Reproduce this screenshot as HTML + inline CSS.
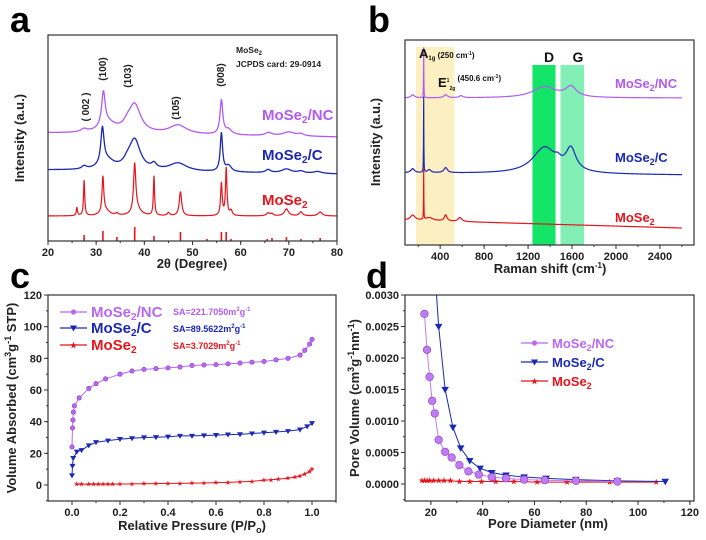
<!DOCTYPE html>
<html><head><meta charset="utf-8">
<style>
html,body{margin:0;padding:0;background:#fff;}
svg{display:block;font-family:"Liberation Sans",Arial,sans-serif;font-weight:bold;}
</style></head>
<body>
<svg id="fig" width="706" height="540" viewBox="0 0 706 540"></svg>
<script>
// ---------- DATA ----------
// panel a (XRD): peaks [center 2theta, height, halfwidth]
const xrdNCBase=[108,104];
const xrdNCPeaks=[[27.5,3,0.8],[31.5,34,0.45],[32.5,9,2],[38,28,1.5],[36.5,5,1],[47,9,2.2],[56,34,0.35],[57.5,5,0.8],[65.8,3,0.8],[70,4,1.5],[72.5,2,0.8]];
const xrdCBase=[71,67];
const xrdCPeaks=[[27.5,3,0.6],[31.3,36,0.4],[32.3,9,1.8],[38,30,1.4],[36.5,5,1],[42,5,0.6],[47,8,2.2],[56,38,0.3],[57.5,6,0.7],[65.7,3,0.6],[69.5,4,1.2],[72.5,2,0.8],[76,2,1]];
const xrdMBase=[25,25];
const xrdMPeaks=[[26,8,0.15],[27.5,35,0.15],[31.4,36,0.22],[32,5,1],[34.3,2,0.3],[38,48,0.28],[38.5,6,1],[42,39,0.15],[45,3,0.3],[47.5,24,0.3],[56,32,0.2],[57,47,0.18],[58,5,0.3],[65.7,3,0.4],[66.5,2,0.3],[69.5,7,0.5],[72.5,4,0.4],[76.5,4,0.5]];
const refPos=[27.5,31.4,34.3,38,42,47.5,53,56,57,58,65.5,66.5,69.5,72.5,76.5];
const refH=[6,10,4,14,5,9,2,9,9,2,2,3,4,2,3];
// panel b (Raman)
const ramNCBase=[147,147];
const ramNCPeaks=[[250,50,1.5],[1350,11,130],[1590,10,60],[450,3,20],[150,3,20],[590,2,20]];
const ramCBase=[72,70];
const ramCPeaks=[[250,75,1.5],[1350,26,130],[1590,22,55],[1470,4,30],[450,5,20],[150,4,20],[300,3,20]];
const ramMBase=[25,17];
const ramMPeaks=[[250,50,1.5],[450,6,15],[150,5,25],[580,4,20],[300,3,40]];
// panel c (BET)
const pNC=[0,0.002,0.004,0.006,0.01,0.03,0.07,0.1,0.14,0.2,0.25,0.3,0.35,0.4,0.45,0.5,0.55,0.6,0.65,0.7,0.75,0.8,0.85,0.9,0.95,0.97,0.99,1.0];
const vNC=[24,36,41,46,50,55,61,64,67,70,72,73,73.5,74,74.5,75.5,75.8,76,76.5,77,77.5,78,79,80,82,85,89,92];
const pC=[0,0.002,0.005,0.02,0.04,0.07,0.1,0.15,0.2,0.25,0.3,0.35,0.4,0.45,0.5,0.55,0.6,0.65,0.7,0.75,0.8,0.85,0.9,0.95,0.98,1.0];
const vC=[6,12,17,21,22,25,27,28,29,29.5,30,30.2,30.5,31,31,31.3,31.5,31.8,32,32.5,33,33.5,34,35,37,39];
const pM=[0.02,0.04,0.07,0.09,0.11,0.13,0.15,0.17,0.2,0.25,0.3,0.35,0.4,0.45,0.5,0.55,0.6,0.65,0.7,0.75,0.8,0.83,0.86,0.9,0.93,0.95,0.97,0.99,1.0];
const vM=[0.5,0.5,0.5,0.5,0.5,0.5,0.5,0.5,0.6,0.7,0.8,0.9,1,1,1.2,1.3,1.5,1.7,2,2.3,3,3.3,3.7,4.3,5,5.8,7,8.5,10];
// panel d (pore size)
const dNC=[17.5,18.5,19.5,20.5,21.5,23,25.5,28,31,34.5,38.5,43.5,49,56,64,76,92];
const pvNC=[0.0027,0.00213,0.0017,0.00132,0.00112,0.0007,0.00051,0.00042,0.0003,0.0002,0.00015,0.00011,0.00009,0.00007,0.00006,0.00005,0.00004];
const dC=[20.5,23,25.5,28.5,31.5,35,39,43.5,49,56,64.5,76,92,110.5];
const pvC=[0.004,0.0025,0.0015,0.0009,0.00057,0.00037,0.00025,0.00018,0.00014,0.00011,0.00009,0.00007,0.00005,0.00004];
const dM=[16.5,17.5,18.5,19.5,21,23,25,27.5,31,35,39.5,45,52,61,72.5,89,107];
const pvM=[0.00005,0.00005,0.00005,0.00005,0.00005,0.00005,0.00005,0.00005,0.00004,0.00004,0.00004,0.00004,0.00004,0.00003,0.00003,0.00003,0.00003];
const xTicksA=[20,30,40,50,60,70,80];
const xTicksB=[400,800,1200,1600,2000,2400];
const xTicksC=[0,0.2,0.4,0.6,0.8,1.0];
const yTicksC=[0,20,40,60,80,100,120];
const xTicksD=[20,40,60,80,100,120];
const yTicksD=[0,0.0005,0.001,0.0015,0.002,0.0025,0.003];

// ---------- HELPERS ----------
const NS='http://www.w3.org/2000/svg';
const svg=document.getElementById('fig');
const PUR='#b25af2',BLU='#1a28b2',RED='#e8141c';
function mk(tag,attrs,parent){const e=document.createElementNS(NS,tag);for(const k in attrs)e.setAttribute(k,attrs[k]);(parent||svg).appendChild(e);return e;}
function lin(d0,d1,r0,r1){return v=>r0+(v-d0)*(r1-r0)/(d1-d0);}
function txt(x,y,s,size,fill,anchor,name,extra){const t=mk('text',Object.assign({x:x,y:y,'font-size':size,fill:fill||'#000','text-anchor':anchor||'start'},extra||{}));t.innerHTML=s;


return t;}
function frame(b,name){const r=mk('rect',{x:b.x0,y:b.y0,width:b.x1-b.x0,height:b.y1-b.y0,fill:'none',stroke:'#333','stroke-width':1.2});

}
function xAxis(b,sx,ticks,minorStep,fmt,name){
  const g=mk('g',{});
  
  
  ticks.forEach(t=>{const x=sx(t);mk('line',{x1:x,x2:x,y1:b.y1,y2:b.y1+4,stroke:'#333','stroke-width':1},g);
    const l=txt(x,b.y1+15,fmt(t),11,'#222','middle','x-tick-label');g.appendChild(l);});
  if(minorStep){for(let v=ticks[0]-minorStep;v<=ticks[ticks.length-1]+minorStep;v+=minorStep){const x=sx(v);if(x>b.x0&&x<b.x1)mk('line',{x1:x,x2:x,y1:b.y1,y2:b.y1+2,stroke:'#333','stroke-width':1},g);}}
}
function yAxis(b,sy,ticks,minorStep,fmt,name){
  const g=mk('g',{});
  
  
  ticks.forEach(t=>{const y=sy(t);mk('line',{x1:b.x0,x2:b.x0-4,y1:y,y2:y,stroke:'#333','stroke-width':1},g);
    const l=txt(b.x0-6,y+4,fmt(t),11,'#222','end','y-tick-label');g.appendChild(l);});
  if(minorStep){for(let v=ticks[0]-minorStep;v<=ticks[ticks.length-1];v+=minorStep){const y=sy(v);if(y>b.y0&&y<b.y1)mk('line',{x1:b.x0,x2:b.x0-2,y1:y,y2:y,stroke:'#333','stroke-width':1},g);}}
}
function spectrum(x0,x1,step,base,peaks){const pts=[];for(let x=x0;x<=x1+1e-9;x+=step){let v=base[0]+(base[1]-base[0])*(x-x0)/(x1-x0);peaks.forEach(p=>{const u=(x-p[0])/p[2];v+=p[1]/(1+u*u);});pts.push([x,v]);}return pts;}
function poly(pts,sx,sy,color,w,name,clip){const p=mk('polyline',{points:pts.map(q=>sx(q[0]).toFixed(2)+','+sy(q[1]).toFixed(2)).join(' '),fill:'none',stroke:color,'stroke-width':w,'stroke-linejoin':'round'});
if(clip)p.setAttribute('clip-path',clip);


return p;}

// ---------- PANEL A ----------
const A={x0:48,x1:337,y0:35,y1:241};
const axA=lin(20,80,A.x0,A.x1), ayA=lin(0,206,A.y1,A.y0);
txt(10,32,'a',36,'#000','start','panel-label-a');
poly(spectrum(20,80,0.05,xrdNCBase,xrdNCPeaks),axA,ayA,PUR,1.3,'xrd-mose2-nc-line');
poly(spectrum(20,80,0.05,xrdCBase,xrdCPeaks),axA,ayA,BLU,1.3,'xrd-mose2-c-line');
poly(spectrum(20,80,0.02,xrdMBase,xrdMPeaks),axA,ayA,RED,1.2,'xrd-mose2-line');
refPos.forEach((p,i)=>{const l=mk('line',{x1:axA(p),x2:axA(p),y1:A.y1,y2:ayA(refH[i]),stroke:RED,'stroke-width':1.6});

});
frame(A,'plot-frame-a');
xAxis(A,axA,xTicksA,5,v=>v,'x-axis-a');
txt(192,268,'2θ (Degree)',13,'#222','middle','x-axis-title-a');
txt(24,138,'Intensity (a.u.)',13,'#222','middle','y-axis-title-a',{transform:'rotate(-90 24 138)'});
txt(236,53,'MoSe<tspan font-size="6" dy="2">2</tspan>',8.5,'#222','start','jcpds-title');
txt(236,67,'JCPDS card: 29-0914',8.5,'#222','start','jcpds-card');
[['( 002 )',89,107],['(100)',106,69],['(103)',131,76],['(105)',179,108],['(008)',224,75]].forEach(q=>txt(q[1],q[2],q[0],10,'#222','middle','peak-index-label',{transform:'rotate(-90 '+q[1]+' '+q[2]+')'}));
txt(262,120,'MoSe<tspan font-size="10" dy="3">2</tspan><tspan dy="-3">/NC</tspan>',15,PUR,'start','label-mose2-nc-a');
txt(262,160,'MoSe<tspan font-size="10" dy="3">2</tspan><tspan dy="-3">/C</tspan>',15,BLU,'start','label-mose2-c-a');
txt(262,205,'MoSe<tspan font-size="10" dy="3">2</tspan>',15,RED,'start','label-mose2-a');

// ---------- PANEL B ----------
const B={x0:405,x1:694,y0:40,y1:245};
const axB=lin(80,2710,B.x0,B.x1), ayB=lin(0,205,B.y1,B.y0);
txt(368,32,'b',36,'#000','start','panel-label-b');
const yb=mk('rect',{x:axB(180),y:47,width:axB(530)-axB(180),height:B.y1-47,fill:'#fcefc2'});


const db=mk('rect',{x:axB(1240),y:65,width:axB(1450)-axB(1240),height:B.y1-65,fill:'#14e468'});


const gb=mk('rect',{x:axB(1495),y:65,width:axB(1710)-axB(1495),height:B.y1-65,fill:'#82f0b4'});


poly(spectrum(80,2600,2,ramNCBase,ramNCPeaks),axB,ayB,PUR,1.2,'raman-mose2-nc-line');
poly(spectrum(80,2600,2,ramCBase,ramCPeaks),axB,ayB,BLU,1.2,'raman-mose2-c-line');
poly(spectrum(80,2600,2,ramMBase,ramMPeaks),axB,ayB,RED,1.2,'raman-mose2-line');
frame(B,'plot-frame-b');
xAxis(B,axB,xTicksB,200,v=>v,'x-axis-b');
txt(550,273,'Raman shift (cm<tspan font-size="8" dy="-5">-1</tspan><tspan dy="5">)</tspan>',13,'#222','middle','x-axis-title-b');
txt(380,142,'Intensity (a.u.)',13,'#222','middle','y-axis-title-b',{transform:'rotate(-90 380 142)'});
txt(419,58,'A<tspan font-size="6" dy="2">1g</tspan><tspan font-size="8" dy="-2"> (250 cm</tspan><tspan font-size="5" dy="-3">-1</tspan><tspan font-size="8" dy="3">)</tspan>',13,'#111','start','a1g-label');
txt(438,87,'E<tspan font-size="5" dy="-5">1</tspan><tspan font-size="5" dy="8">2g</tspan><tspan font-size="8" dy="-9"> (450.6 cm</tspan><tspan font-size="5" dy="-3">-1</tspan><tspan font-size="8" dy="3">)</tspan>',13,'#111','start','e2g-label');
txt(549,62,'D',14,'#111','middle','d-band-label');
txt(578,62,'G',14,'#111','middle','g-band-label');
txt(615,88,'MoSe<tspan font-size="9" dy="3">2</tspan><tspan dy="-3">/NC</tspan>',13,PUR,'start','label-mose2-nc-b');
txt(615,162,'MoSe<tspan font-size="9" dy="3">2</tspan><tspan dy="-3">/C</tspan>',13,BLU,'start','label-mose2-c-b');
txt(615,222,'MoSe<tspan font-size="9" dy="3">2</tspan>',13,RED,'start','label-mose2-b');

// ---------- PANEL C ----------
const C={x0:48,x1:336,y0:295,y1:501};
const axC=lin(-0.1,1.1,C.x0,C.x1), ayC=lin(-10.1,120,C.y1,C.y0);
txt(10,288,'c',36,'#000','start','panel-label-c');
function series(xs,ys,sx,sy,color,kind,name,r,clip){
  poly(xs.map((x,i)=>[x,ys[i]]),sx,sy,color,1,name+'-line',clip);
  xs.forEach((x,i)=>{const cx=sx(x),cy=sy(ys[i]);let m;
    if(kind==='circle')m=mk('circle',{cx:cx,cy:cy,r:r,fill:color,stroke:'#8a3ac8','stroke-width':0.6});
    else if(kind==='tri')m=mk('polygon',{points:`${cx-r},${cy-r*0.7} ${cx+r},${cy-r*0.7} ${cx},${cy+r}`,fill:color});
    else m=mk('text',{x:cx,y:cy+r*0.9,'font-size':r*2.8,fill:color,'text-anchor':'middle'}),m.textContent='★';
    if(clip)m.setAttribute('clip-path',clip);
    
    
  });
}
series(pNC,vNC,axC,ayC,'#b868f2','circle','bet-mose2-nc',2.2);
series(pC,vC,axC,ayC,BLU,'tri','bet-mose2-c',3);
series(pM,vM,axC,ayC,RED,'star','bet-mose2',2.2);
frame(C,'plot-frame-c');
xAxis(C,axC,xTicksC,0.1,v=>v.toFixed(1),'x-axis-c');
yAxis(C,ayC,yTicksC,10,v=>v,'y-axis-c');
txt(192,530,'Relative Pressure (P/P<tspan font-size="9" dy="3">o</tspan><tspan dy="-3">)</tspan>',13,'#222','middle','x-axis-title-c');
txt(16,398,'Volume Absorbed (cm<tspan font-size="9" dy="-5">3</tspan><tspan dy="5">g</tspan><tspan font-size="9" dy="-5">-1</tspan><tspan dy="5"> STP)</tspan>',13,'#222','middle','y-axis-title-c',{transform:'rotate(-90 16 398)'});
function legend(x,y,color,kind,label,size,name){
  const g=mk('g',{});
  
  
  mk('line',{x1:x,x2:x+27,y1:y,y2:y,stroke:color,'stroke-width':1.2},g);
  const cx=x+13.5;
  if(kind==='circle')mk('circle',{cx:cx,cy:y,r:2.6,fill:color},g);
  else if(kind==='tri')mk('polygon',{points:`${cx-3.5},${y-2.5} ${cx+3.5},${y-2.5} ${cx},${y+3.5}`,fill:color},g);
  else{const s=mk('text',{x:cx,y:y+3,'font-size':8,fill:color,'text-anchor':'middle'},g);s.textContent='★';}
  const t=txt(x+31,y+5,label,size,color,'start','legend-text');g.appendChild(t);
}
legend(60,312,'#b868f2','circle','MoSe<tspan font-size="10" dy="3">2</tspan><tspan dy="-3">/NC</tspan>',15,'legend-entry-mose2-nc-c');
legend(60,328,BLU,'tri','MoSe<tspan font-size="10" dy="3">2</tspan><tspan dy="-3">/C</tspan>',15,'legend-entry-mose2-c-c');
legend(60,345,RED,'star','MoSe<tspan font-size="10" dy="3">2</tspan>',15,'legend-entry-mose2-c');
txt(173,315,'SA=221.7050m<tspan font-size="6" dy="-4">2</tspan><tspan dy="4">g</tspan><tspan font-size="6" dy="-4">-1</tspan>',9,PUR,'start','sa-mose2-nc');
txt(173,332,'SA=89.5622m<tspan font-size="6" dy="-4">2</tspan><tspan dy="4">g</tspan><tspan font-size="6" dy="-4">-1</tspan>',9,BLU,'start','sa-mose2-c');
txt(173,349,'SA=3.7029m<tspan font-size="6" dy="-4">2</tspan><tspan dy="4">g</tspan><tspan font-size="6" dy="-4">-1</tspan>',9,RED,'start','sa-mose2');

// ---------- PANEL D ----------
const D={x0:405,x1:694,y0:295,y1:501};
const axD=lin(10,121.6,D.x0,D.x1), ayD=lin(-0.00027,0.003,D.y1,D.y0);
txt(366,288,'d',36,'#000','start','panel-label-d');
const cp=mk('clipPath',{id:'clipD'});mk('rect',{x:D.x0,y:D.y0,width:D.x1-D.x0,height:D.y1-D.y0},cp);
series(dM,pvM,axD,ayD,RED,'star','pore-mose2',2.6,'url(#clipD)');
series(dC,pvC,axD,ayD,BLU,'tri','pore-mose2-c',3.8,'url(#clipD)');
series(dNC,pvNC,axD,ayD,'#c07cf4','circle','pore-mose2-nc',3.8,'url(#clipD)');
frame(D,'plot-frame-d');
xAxis(D,axD,xTicksD,10,v=>v,'x-axis-d');
yAxis(D,ayD,yTicksD,0.00025,v=>v.toFixed(4),'y-axis-d');
txt(548,528,'Pore Diameter (nm)',13,'#222','middle','x-axis-title-d');
txt(359,398,'Pore Volume (cm<tspan font-size="9" dy="-5">3</tspan><tspan dy="5">g</tspan><tspan font-size="9" dy="-5">-1</tspan><tspan dy="5">nm</tspan><tspan font-size="9" dy="-5">-1</tspan><tspan dy="5">)</tspan>',13,'#222','middle','y-axis-title-d',{transform:'rotate(-90 359 398)'});
legend(521,343,'#b868f2','circle','MoSe<tspan font-size="9" dy="3">2</tspan><tspan dy="-3">/NC</tspan>',13,'legend-entry-mose2-nc-d');
legend(521,362,BLU,'tri','MoSe<tspan font-size="9" dy="3">2</tspan><tspan dy="-3">/C</tspan>',13,'legend-entry-mose2-c-d');
legend(521,381,RED,'star','MoSe<tspan font-size="9" dy="3">2</tspan>',13,'legend-entry-mose2-d');
</script>
</body></html>
